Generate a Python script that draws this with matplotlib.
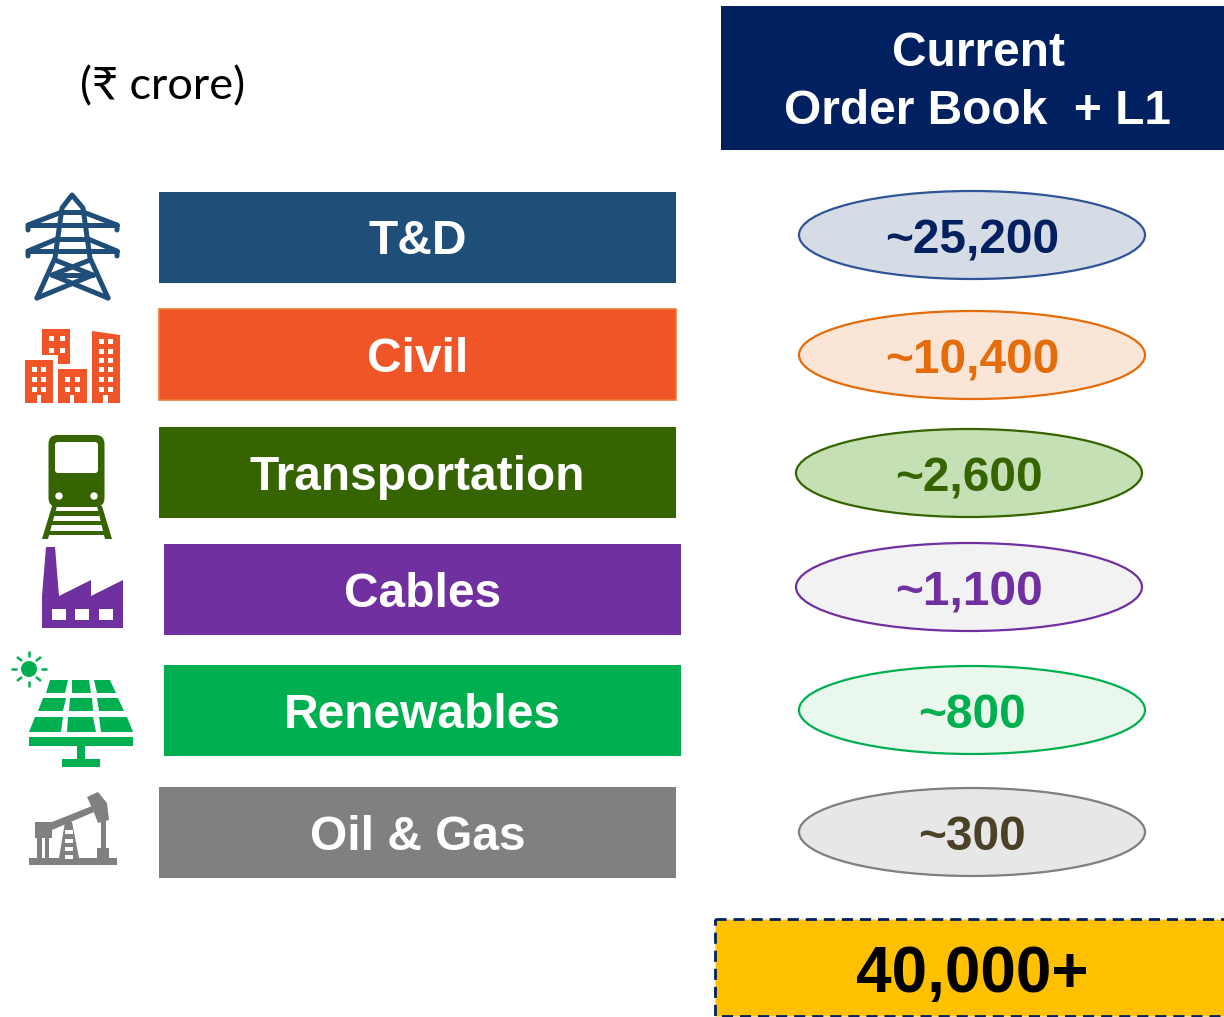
import matplotlib
matplotlib.use("Agg")
import matplotlib.pyplot as plt
from matplotlib.patches import Rectangle, Ellipse, Polygon, Circle, FancyBboxPatch

# data
sectors = ["T&D", "Civil", "Transportation", "Cables", "Renewables", "Oil & Gas"]
order_book = ["~25,200", "~10,400", "~2,600", "~1,100", "~800", "~300"]
total = "40,000+"
header = ["Current", "Order Book  + L1"]
unit = "(₹ crore)"

# colours per row
bar_colors = ["#1F4E79", "#EF5527", "#356400", "#7030A0", "#00B050", "#808080"]
bar_edges = ["none", "#ED7D31", "none", "none", "none", "none"]
oval_fill = ["#D6DCE5", "#FBE5D6", "#C5E0B4", "#F2F2F2", "#EAF7EC", "#E7E7E7"]
oval_edge = ["#2F5597", "#E46C0A", "#356400", "#7030A0", "#00B050", "#7F7F7F"]
oval_text = ["#002060", "#E46C0A", "#356400", "#7030A0", "#00B050", "#4A4126"]
navy = "#002060"
gold = "#FFC000"

# layout in pixels of the 1224x1017 picture
bar_left = [159, 159, 159, 164, 164, 159]
bar_top = [191.5, 309, 426.5, 544, 664.5, 787]
bar_w = 517
bar_h = 91
oval_x = [972, 972, 969, 969, 972, 972]
oval_y = [235, 355, 473, 587, 710, 832]
oval_w = 346
oval_h = 88

fig = plt.figure(figsize=(12.24, 10.17), dpi=100)
ax = fig.add_axes([0, 0, 1, 1])
ax.set_xlim(0, 1224)
ax.set_ylim(1017, 0)
ax.axis("off")

plt.rcParams["font.family"] = ["Liberation Sans", "DejaVu Sans"]

# header box
ax.add_patch(Rectangle((721, 6), 503, 144, fc=navy, ec="none"))
ax.text(979, 54, header[0], color="white", fontsize=34.5, fontweight="bold", ha="center", va="center")
ax.text(978, 112, header[1], color="white", fontsize=34.5, fontweight="bold", ha="center", va="center")
ax.text(163, 87, unit, color="black", fontsize=32.5, ha="center", va="center",
        family=["Lato", "DejaVu Sans"])

# rows
for i in range(len(sectors)):
    ax.add_patch(Rectangle((bar_left[i], bar_top[i]), bar_w, bar_h, fc=bar_colors[i], ec=bar_edges[i], lw=1.2))
    ax.text(bar_left[i] + bar_w / 2, bar_top[i] + bar_h / 2 + 5, sectors[i], color="white",
            fontsize=34.5, fontweight="bold", ha="center", va="center")
    ax.add_patch(Ellipse((oval_x[i], oval_y[i]), oval_w, oval_h, fc=oval_fill[i], ec=oval_edge[i], lw=1.6))
    ax.text(oval_x[i], oval_y[i] + 6, order_book[i], color=oval_text[i], fontsize=34.5,
            fontweight="bold", ha="center", va="center")

# total box
ax.add_patch(Rectangle((715, 919), 520, 97, fc=gold, ec=navy, lw=2, ls=(0, (4, 2.5)), clip_on=True))
ax.text(972, 975, total, color="black", fontsize=46, fontweight="bold", ha="center", va="center")

# --- icons ---
def line(pts, c, lw=3.6):
    xs = [p[0] for p in pts]
    ys = [p[1] for p in pts]
    ax.plot(xs, ys, color=c, lw=lw, solid_capstyle="round", solid_joinstyle="round")

def poly(pts, c):
    ax.add_patch(Polygon(pts, closed=True, fc=c, ec="none"))

def rect(x, y, w, h, c):
    ax.add_patch(Rectangle((x, y), w, h, fc=c, ec="none"))

# tower
c = bar_colors[0]
line([(37, 298), (55, 258), (62, 208), (72, 195), (83, 208), (90, 258), (108, 298)], c)
line([(62, 212), (28, 225), (28, 230)], c)
line([(83, 212), (117, 225), (117, 230)], c)
line([(28, 225), (117, 225)], c)
line([(62, 212), (83, 212)], c)
line([(57, 239), (28, 251), (28, 256)], c)
line([(88, 239), (117, 251), (117, 256)], c)
line([(28, 251), (117, 251)], c)
line([(57, 239), (88, 239)], c)
line([(55, 260), (93, 275), (37, 298)], c)
line([(90, 260), (52, 275), (108, 298)], c)
line([(52, 275), (93, 275)], c)

# buildings
c = bar_colors[1]
poly([(42, 329), (70, 329), (70, 364), (58, 364), (58, 355), (42, 355)], c)
rect(25, 360, 28, 43, c)
rect(58, 369, 29, 34, c)
poly([(92, 331), (120, 335), (120, 403), (92, 403)], c)
for x in (49, 60):
    for y in (336, 348):
        rect(x, y, 5, 5, "white")
for x in (32, 41):
    for y in (367, 377, 387):
        rect(x, y, 5, 5, "white")
for x in (65, 75):
    for y in (377, 387):
        rect(x, y, 5, 5, "white")
for x in (99, 108):
    for y in (339, 349, 358, 367, 377, 387):
        rect(x, y, 5, 5, "white")
rect(37, 395, 4, 8, "white")
rect(70, 395, 4, 8, "white")
rect(103, 395, 5, 8, "white")

# train
c = bar_colors[2]
ax.add_patch(FancyBboxPatch((48.5, 435), 56, 72, boxstyle="round,pad=0,rounding_size=9", fc=c, ec="none"))
ax.add_patch(FancyBboxPatch((55, 442), 43, 31, boxstyle="round,pad=0,rounding_size=3", fc="white", ec="none"))
ax.add_patch(Circle((59, 496), 3.7, fc="white", ec="none"))
ax.add_patch(Circle((94, 496), 3.7, fc="white", ec="none"))
poly([(52, 506), (57, 506), (48, 539), (42, 539)], c)
poly([(97, 506), (102, 506), (112, 539), (105, 539)], c)
rect(54, 511, 45, 5, c)
rect(51, 521, 51, 4, c)
rect(47, 531, 59, 4, c)

# factory
c = bar_colors[3]
poly([(46, 547), (55, 547), (59, 596), (91, 580), (91, 596), (123, 580), (123, 628), (42, 628), (42, 596)], c)
for x in (52, 75, 99):
    rect(x, 609, 14, 11, "white")

# solar panel
c = bar_colors[4]
ax.add_patch(Circle((29, 669), 8, fc=c, ec="none"))
for a, b in [((29, 651), (29, 657)), ((29, 681), (29, 687)), ((11, 669), (17, 669)), ((41, 669), (47, 669)),
             ((17, 657), (22, 661)), ((41, 657), (36, 661)), ((17, 681), (22, 677)), ((41, 681), (36, 677))]:
    ax.plot([a[0], b[0]], [a[1], b[1]], color=c, lw=1.8, solid_capstyle="butt")
poly([(50, 680), (68, 680), (65, 693), (46, 693)], c)
poly([(72, 680), (89, 680), (91, 693), (72, 693)], c)
poly([(94, 680), (110, 680), (116, 693), (97, 693)], c)
poly([(43, 698), (66, 698), (63, 711), (38, 711)], c)
poly([(70, 698), (92, 698), (93, 711), (69, 711)], c)
poly([(97, 698), (118, 698), (124, 711), (99, 711)], c)
poly([(35, 717), (63, 717), (61, 732), (29, 732)], c)
poly([(68, 717), (93, 717), (96, 732), (67, 732)], c)
poly([(99, 717), (127, 717), (133, 732), (101, 732)], c)
rect(29, 737, 104, 9, c)
rect(77, 746, 8, 13, c)
rect(62, 759, 38, 8, c)

# pump jack
c = bar_colors[5]
rect(29, 858, 88, 7, c)
rect(35, 822, 17, 16, c)
rect(37, 838, 5, 20, c)
rect(45, 838, 4, 20, c)
poly([(52, 822), (92, 806), (94, 812), (52, 830)], c)
poly([(87, 797), (98, 792), (107, 803), (109, 820), (98, 823), (93, 810)], c)
rect(101, 820, 5, 28, c)
rect(97, 848, 12, 10, c)
poly([(65, 822), (72, 822), (79, 858), (59, 858)], c)
for y in (830, 839, 847, 855):
    rect(64.5, y, 8.5, 3.5, "white")

fig.savefig("out.png", dpi=100)
